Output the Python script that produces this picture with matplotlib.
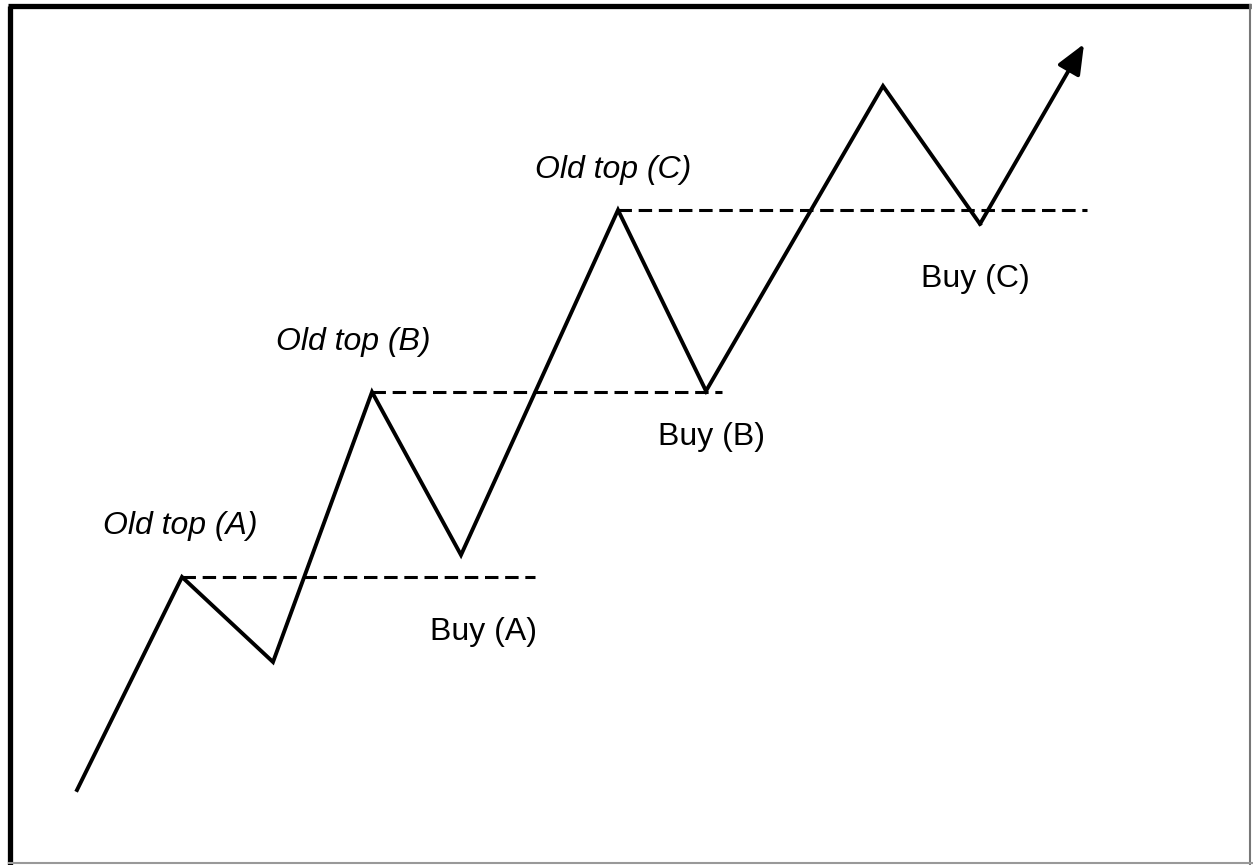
import matplotlib
matplotlib.use("Agg")
import matplotlib.pyplot as plt
from matplotlib.patches import FancyArrowPatch

# Zigzag price path (pixel-like coordinates)
path_x = [77, 182, 273, 372, 461, 618, 706, 883, 980]
path_y = [790, 577, 662, 392, 555, 210, 391, 86, 224]
arrow_end = (1084, 44)

# Resistance-turned-support levels
level_y = [577, 392, 210]
level_x0 = [182, 372, 618]
level_x1 = [535, 722, 1087]

top_labels = ["Old top (A)", "Old top (B)", "Old top (C)"]
top_label_xy = [(180, 526), (353, 342), (613, 170)]
buy_labels = ["Buy (A)", "Buy (B)", "Buy (C)"]
buy_label_xy = [(483, 632), (711, 437), (975, 279)]

plt.rcParams['font.family'] = ['Liberation Sans', 'DejaVu Sans']

fig = plt.figure(figsize=(12.53, 8.65), dpi=100)
ax = fig.add_axes([0, 0, 1, 1])
ax.set_xlim(0, 1253)
ax.set_ylim(865, 0)
ax.axis('off')

# border
ax.plot([9.5, 9.5], [865, 5.5], color='black', lw=3.8, solid_capstyle='butt')
ax.plot([7.5, 1251], [5.5, 5.5], color='black', lw=3.8, solid_capstyle='butt')
ax.plot([1249.5, 1249.5], [5, 865], color='#777777', lw=1.5)
ax.plot([9, 1253], [862.5, 862.5], color='#999999', lw=1.5)

for y, x0, x1 in zip(level_y, level_x0, level_x1):
    ax.plot([x0, x1], [y, y], color='black', lw=2.2, ls=(0, (4.4, 2.2)))

ax.plot(path_x, path_y, color='black', lw=2.8, solid_joinstyle='miter')
arr = FancyArrowPatch((path_x[-1], path_y[-1]), arrow_end,
                      arrowstyle='-|>,head_length=0.9,head_width=0.38',
                      mutation_scale=20, color='black', lw=2.8,
                      shrinkA=0, shrinkB=0)
ax.add_patch(arr)

for t, (x, y) in zip(top_labels, top_label_xy):
    ax.text(x, y, t, fontsize=23, style='italic', ha='center', va='center')
for t, (x, y) in zip(buy_labels, buy_label_xy):
    ax.text(x, y, t, fontsize=23, ha='center', va='center')

fig.savefig('out.png', dpi=100)
